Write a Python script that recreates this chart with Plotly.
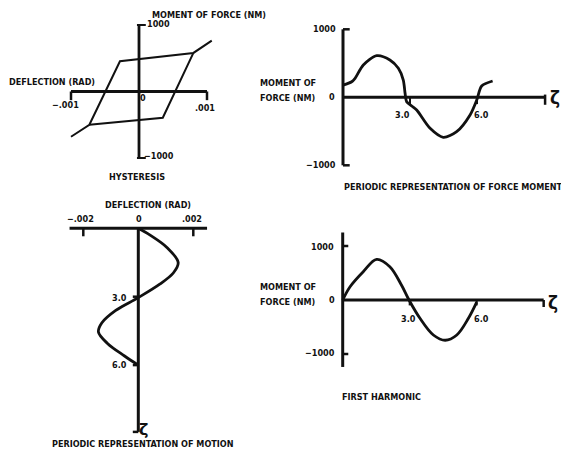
import plotly.graph_objects as go

# ---------------- data ----------------
# Hysteresis loop: deflection (rad) vs moment of force (N·m); None breaks the path
hyst_defl = [-0.00100, -0.00073, -0.00028, 0.00080, 0.00107, None, 0.00080, 0.00035, -0.00073]
hyst_moment = [-680, -500, 455, 580, 765, None, 580, -395, -500]

# Periodic representation of the force moment
force_zeta = [0.0, 0.39, 0.54, 0.91, 1.51, 2.10, 2.48, 2.70, 2.78, 2.85, 3.08, 3.30,
              3.90, 4.49, 5.09, 5.69, 5.99, 6.21, 6.70]
force_moment = [180, 229, 279, 475, 612, 549, 426, 254, 59, -65, -128, -187,
                -456, -588, -506, -260, -40, 166, 240]

# Periodic representation of motion (deflection vs zeta, zeta running downward)
motion_zeta = [0.0, 0.30, 0.85, 1.50, 1.95, 2.45, 3.04, 3.60, 4.15, 4.55, 5.05, 5.60, 5.97]
motion_defl = [0.0, 0.00043, 0.00105, 0.00145, 0.00128, 0.00078, 0.0, -0.00082,
               -0.00133, -0.00145, -0.00112, -0.00050, -0.00004]

# First harmonic of the force moment
harm_zeta = [0.0, 0.33, 0.92, 1.52, 2.11, 2.63, 2.97, 3.46, 4.06, 4.59, 5.11, 5.63, 6.0]
harm_moment = [0, 246, 524, 752, 617, 278, 0, -339, -648, -745, -648, -339, -40]

# axis tick values
hyst_xticks = [-0.001, 0.001]
hyst_yticks = [1000, -1000]
moment_ticks = [1000, 0, -1000]
zeta_ticks = [3.0, 6.0]
motion_xticks = [-0.002, 0.002]

# ---------------- layout helpers ----------------
W, H = 561, 457
FONT = "Liberation Sans Narrow, DejaVu Sans Condensed, Arial Narrow, sans-serif"
INK = "#111111"


def axis_range(p0, p1, origin, scale):
    return [(p0 - origin) / scale, (p1 - origin) / scale]


def dom(p0, p1, vertical=False):
    if vertical:
        return [1 - p1 / H, 1 - p0 / H]
    return [p0 / W, p1 / W]


hidden = dict(visible=False, showgrid=False, zeroline=False, fixedrange=True)

fig = go.Figure()

# panel placement: pixel box, origin pixel and pixels per unit
fig.update_layout(
    # 1: hysteresis
    xaxis=dict(domain=dom(40, 230), range=axis_range(40, 230, 139, 68 / 0.001), **hidden),
    yaxis=dict(domain=dom(15, 170, True),
               range=[(91.5 - 170) / 0.0665, (91.5 - 15) / 0.0665], anchor="x", **hidden),
    # 2: periodic force moment
    xaxis2=dict(domain=dom(330, 555), range=axis_range(330, 555, 343, 22.33), anchor="y2", **hidden),
    yaxis2=dict(domain=dom(15, 175, True),
                range=[(97.3 - 175) / 0.068, (97.3 - 15) / 0.068], anchor="x2", **hidden),
    # 3: periodic motion (zeta downward)
    xaxis3=dict(domain=dom(40, 230), range=axis_range(40, 230, 138.3, 55 / 0.002), anchor="y3", **hidden),
    yaxis3=dict(domain=dom(200, 445, True),
                range=[(445 - 228.3) / 22.8, (200 - 228.3) / 22.8], anchor="x3", **hidden),
    # 4: first harmonic
    xaxis4=dict(domain=dom(330, 555), range=axis_range(330, 555, 342.7, 22.33), anchor="y4", **hidden),
    yaxis4=dict(domain=dom(225, 375, True),
                range=[(300 - 375) / 0.054, (300 - 225) / 0.054], anchor="x4", **hidden),
)

# ---------------- curves ----------------
fig.add_trace(go.Scatter(x=hyst_defl, y=hyst_moment, mode="lines", xaxis="x", yaxis="y",
                         line=dict(color=INK, width=2), hoverinfo="skip", showlegend=False))
fig.add_trace(go.Scatter(x=force_zeta, y=force_moment, mode="lines", xaxis="x2", yaxis="y2",
                         line=dict(color=INK, width=2.8, shape="spline", smoothing=0.8),
                         hoverinfo="skip", showlegend=False))
fig.add_trace(go.Scatter(x=motion_defl, y=motion_zeta, mode="lines", xaxis="x3", yaxis="y3",
                         line=dict(color=INK, width=2.8, shape="spline", smoothing=1.0),
                         hoverinfo="skip", showlegend=False))
fig.add_trace(go.Scatter(x=harm_zeta, y=harm_moment, mode="lines", xaxis="x4", yaxis="y4",
                         line=dict(color=INK, width=2.8, shape="spline", smoothing=1.0),
                         hoverinfo="skip", showlegend=False))


# ---------------- hand-drawn style axes ----------------
def seg(xr, yr, x0, y0, x1, y1, w=3):
    fig.add_shape(type="line", xref=xr, yref=yr, x0=x0, y0=y0, x1=x1, y1=y1,
                  line=dict(color=INK, width=w), layer="above")


# panel 1
seg("x", "y", hyst_xticks[0], 0, hyst_xticks[1], 0)
seg("x", "y", 0, hyst_yticks[0], 0, hyst_yticks[1], 2.8)
for t in hyst_xticks:
    seg("x", "y", t, 0, t, -130, 2.5)
for t in hyst_yticks:
    seg("x", "y", -0.00003, t, 0.0001, t, 2)

# panel 2
seg("x2", "y2", 0, 0, 9.05, 0)
seg("x2", "y2", 0, moment_ticks[0], 0, moment_ticks[-1])
for t in (moment_ticks[0], moment_ticks[-1]):
    seg("x2", "y2", 0, t, 0.3, t, 2.5)
seg("x2", "y2", 9.05, 40, 9.05, -110, 2.5)
for t in zeta_ticks:
    seg("x2", "y2", t, 0, t, -100, 2)

# panel 3
seg("x3", "y3", -0.0025, 0, 0.0025, 0)
seg("x3", "y3", 0, 0, 0, 8.93)
for t in motion_xticks:
    seg("x3", "y3", t, 0, t, 0.35, 2.5)
for t in zeta_ticks + [8.93]:
    seg("x3", "y3", 0, t, -0.0002, t, 2.5)

# panel 4
seg("x4", "y4", 0, 0, 9.0, 0)
seg("x4", "y4", 0, 1250, 0, -1240)
for t in (moment_ticks[0], moment_ticks[-1]):
    seg("x4", "y4", 0, t, 0.25, t, 2.5)
seg("x4", "y4", 9.0, 0, 9.0, -130, 2.5)
for t in zeta_ticks:
    seg("x4", "y4", t, 0, t, -100, 2)


# ---------------- lettering ----------------
def label(text, px, py, anchor="center", size=9, family=FONT):
    fig.add_annotation(text=f"<b>{text}</b>", xref="paper", yref="paper",
                       x=px / W, y=1 - py / H, xanchor=anchor, yanchor="middle",
                       showarrow=False, font=dict(family=family, size=size, color=INK))


ZETA_FONT = "DejaVu Sans, sans-serif"

# panel 1
label("MOMENT OF FORCE (NM)", 150, 15, "left")
label("1000", 145, 24.5, "left")
label("−1000", 142, 156, "left")
label("DEFLECTION (RAD)", 7, 82, "left")
label("−.001", 65, 105)
label("0", 143, 98)
label(".001", 205, 108)
label("HYSTERESIS", 137, 177)

# panel 2
label("1000", 338, 29, "right")
label("0", 337, 97, "right")
label("−1000", 338, 165, "right")
label("MOMENT OF", 258, 83, "left")
label("FORCE (NM)", 258, 98, "left")
label("3.0", 402, 115)
label("6.0", 481, 115)
label("ζ", 555, 98, size=17, family=ZETA_FONT)
label("PERIODIC REPRESENTATION OF FORCE MOMENT", 342, 187, "left")

# panel 3
label("DEFLECTION (RAD)", 148, 205)
label("−.002", 80, 219)
label("0", 139, 219)
label(".002", 192, 219)
label("3.0", 129, 298, "right")
label("6.0", 129, 365, "right")
label("ζ", 143, 429, size=16, family=ZETA_FONT)
label("PERIODIC REPRESENTATION OF MOTION", 50, 444, "left")

# panel 4
label("1000", 336, 247, "right")
label("0", 337, 300, "right")
label("−1000", 337, 353, "right")
label("MOMENT OF", 258, 287, "left")
label("FORCE (NM)", 258, 302, "left")
label("3.0", 408, 319)
label("6.0", 481, 319)
label("ζ", 553, 303, size=17, family=ZETA_FONT)
label("FIRST HARMONIC", 340, 397, "left")

fig.update_layout(width=W, height=H, autosize=False,
                  margin=dict(l=0, r=0, t=0, b=0, pad=0),
                  paper_bgcolor="white", plot_bgcolor="white", showlegend=False)

fig.write_html("out.html")
